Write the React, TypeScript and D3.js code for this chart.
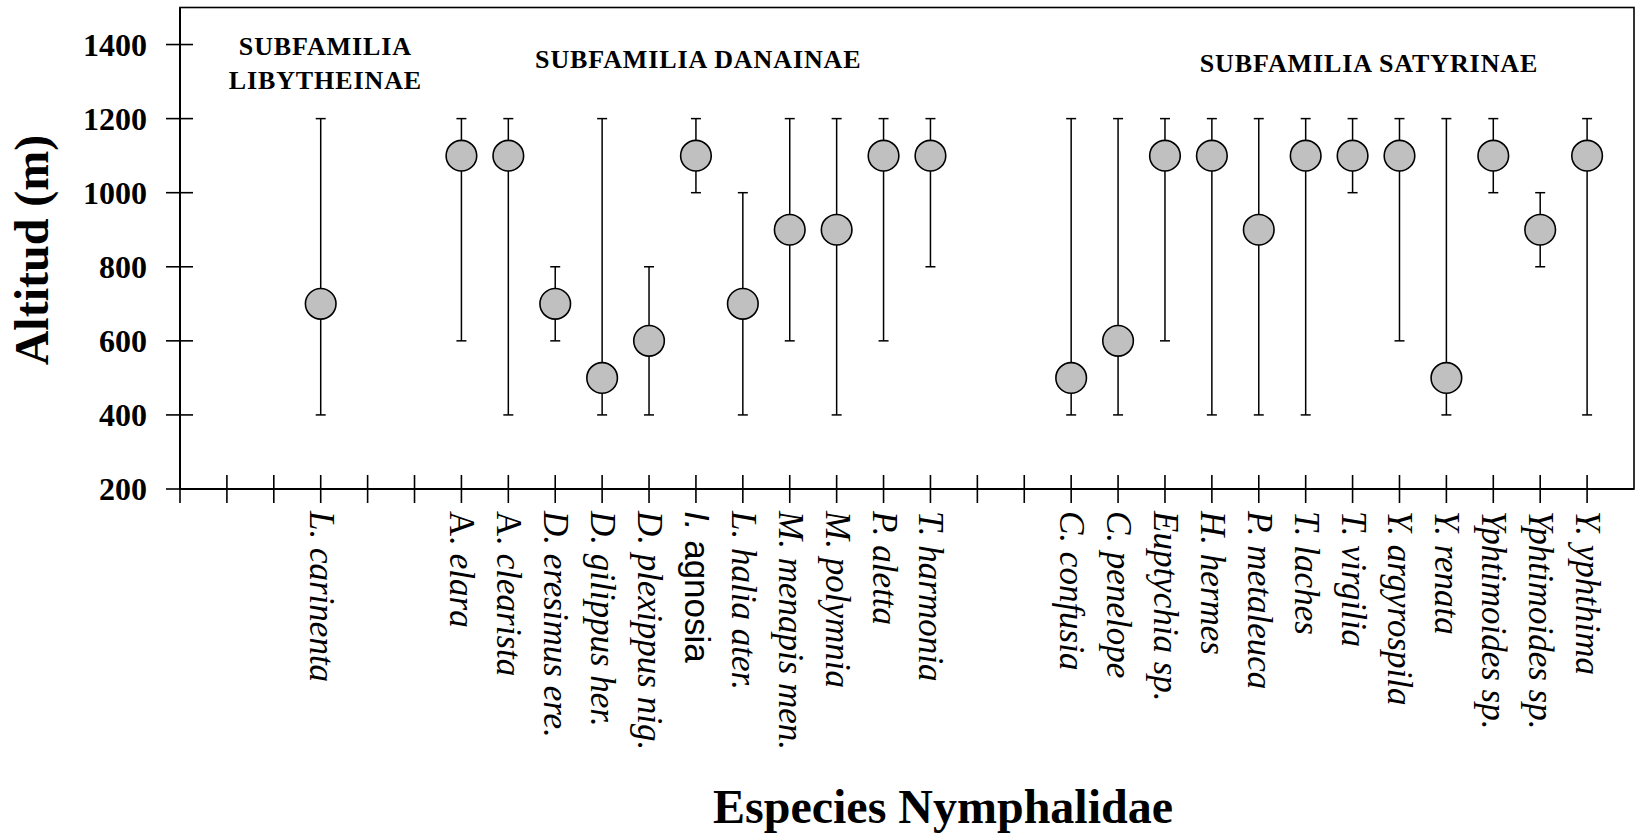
import React from "react";
import * as d3 from "d3";

// ---- data ----
const slotCount = 31; // x domain 0..31
const speciesIndex = [3, 6, 7, 8, 9, 10, 11, 12, 13, 14, 15, 16, 19, 20, 21, 22, 23, 24, 25, 26, 27, 28, 29, 30];
const speciesGenus = ["L.", "A.", "A.", "D.", "D.", "D.", "I.", "L.", "M.", "M.", "P.", "T.", "C.", "C.", "Euptychia", "H.", "P.", "T.", "T.", "Y.", "Y.", "Yphtimoides", "Yphtimoides", "Y."];
const speciesEpithet = ["carinenta", "elara", "clearista", "eresimus ere.", "gilippus her.", "plexippus nig.", "agnosia", "halia ater.", "menapis men.", "polymnia", "aletta", "harmonia", "confusia", "penelope", "sp.", "hermes", "metaleuca", "laches", "virgilia", "argyrospila", "renata", "sp.", "sp.", "yphthima"];
const meanAltitude = [700, 1100, 1100, 700, 500, 600, 1100, 700, 900, 900, 1100, 1100, 500, 600, 1100, 1100, 900, 1100, 1100, 1100, 500, 1100, 900, 1100];
const minAltitude = [400, 600, 400, 600, 400, 400, 1000, 400, 600, 400, 600, 800, 400, 400, 600, 400, 400, 400, 1000, 600, 400, 1000, 800, 400];
const maxAltitude = [1200, 1200, 1200, 800, 1200, 800, 1200, 1000, 1200, 1200, 1200, 1200, 1200, 1200, 1200, 1200, 1200, 1200, 1200, 1200, 1200, 1200, 1000, 1200];
const yTicks = [200, 400, 600, 800, 1000, 1200, 1400];
const yDomain = [200, 1500];
const subfamilyLines = [
  { lines: ["SUBFAMILIA", "LIBYTHEINAE"], x: 3.1 },
  { lines: ["SUBFAMILIA DANAINAE"], x: 11.05 },
  { lines: ["SUBFAMILIA SATYRINAE"], x: 25.35 },
];
const yTitle = "Altitud (m)";
const xTitle = "Especies Nymphalidae";

const W = 1640;
const H = 836;
const left = 180;
const right = 1634;
const top = 7.5;
const bottom = 489;

const serif = "'Liberation Serif', 'Times New Roman', serif";
const sans = "'Liberation Sans', Arial, sans-serif";

export default function App() {
  const x = d3.scaleLinear().domain([0, slotCount]).range([left, right]);
  const y = d3.scaleLinear().domain(yDomain).range([bottom, top]);
  const xTickIdx = d3.range(0, slotCount);
  const cap = 5;
  const labelFont = 35;

  const renderLabel = (i: number) => {
    const g = speciesGenus[i];
    const e = speciesEpithet[i];
    if (g === "I.") {
      return (
        <>
          <tspan fontFamily={sans} fontStyle="italic">{g}</tspan>
          <tspan fontFamily={sans} fontStyle="normal">{" " + e}</tspan>
        </>
      );
    }
    if (g === "A.") {
      return (
        <>
          <tspan fontStyle="normal">{g}</tspan>
          <tspan fontStyle="italic">{" " + e}</tspan>
        </>
      );
    }
    return <tspan fontStyle="italic">{g + " " + e}</tspan>;
  };

  return (
    <svg width={W} height={H} style={{ position: "absolute", left: 0, top: 0, background: "#fff" }} fontFamily={serif}>
      <rect x={0} y={0} width={W} height={H} fill="#fff" />
      {/* frame */}
      <rect x={left} y={top} width={right - left} height={bottom - top} fill="none" stroke="#000" strokeWidth={1.6} />
      <line x1={left} x2={right} y1={bottom} y2={bottom} stroke="#000" strokeWidth={2} />
      <line x1={left} x2={left} y1={top} y2={bottom} stroke="#000" strokeWidth={2} />

      {/* y ticks */}
      {yTicks.map((t) => (
        <g key={"yt" + t}>
          <line x1={left - 14} x2={left + 13} y1={y(t)} y2={y(t)} stroke="#000" strokeWidth={1.6} />
          <text x={147} y={y(t)} dy="0.35em" textAnchor="end" fontWeight="bold" fontSize={32}>
            {t}
          </text>
        </g>
      ))}

      {/* x ticks */}
      {xTickIdx.map((i) => (
        <line key={"xt" + i} x1={x(i)} x2={x(i)} y1={bottom - 14} y2={bottom + 14} stroke="#000" strokeWidth={1.6} />
      ))}

      {/* error bars and points */}
      {speciesIndex.map((idx, i) => {
        const cx = x(idx);
        return (
          <g key={"pt" + i}>
            <line x1={cx} x2={cx} y1={y(minAltitude[i])} y2={y(maxAltitude[i])} stroke="#000" strokeWidth={1.5} />
            <line x1={cx - cap} x2={cx + cap} y1={y(minAltitude[i])} y2={y(minAltitude[i])} stroke="#000" strokeWidth={1.5} />
            <line x1={cx - cap} x2={cx + cap} y1={y(maxAltitude[i])} y2={y(maxAltitude[i])} stroke="#000" strokeWidth={1.5} />
            <circle cx={cx} cy={y(meanAltitude[i])} r={15.3} fill="#c0c0c0" stroke="#000" strokeWidth={1.6} />
          </g>
        );
      })}

      {/* x category labels */}
      {speciesIndex.map((idx, i) => (
        <text
          key={"lab" + i}
          transform={`translate(${x(idx)},511) rotate(90)`}
          x={0}
          y={11}
          fontSize={labelFont}
          textAnchor="start"
        >
          {renderLabel(i)}
        </text>
      ))}

      {/* subfamily annotations */}
      {subfamilyLines.map((s, k) =>
        s.lines.map((ln, j) => (
          <text
            key={"sf" + k + "-" + j}
            x={x(s.x)}
            y={s.lines.length > 1 ? 55 + j * 34 : k === 1 ? 68 : 72}
            textAnchor="middle"
            fontWeight="bold"
            fontSize={26}
            letterSpacing={0.9}
          >
            {ln}
          </text>
        ))
      )}

      {/* axis titles */}
      <text transform="translate(48,250) rotate(-90)" textAnchor="middle" fontWeight="bold" fontSize={48}>
        {yTitle}
      </text>
      <text x={943} y={823} textAnchor="middle" fontWeight="bold" fontSize={48}>
        {xTitle}
      </text>
    </svg>
  );
}
